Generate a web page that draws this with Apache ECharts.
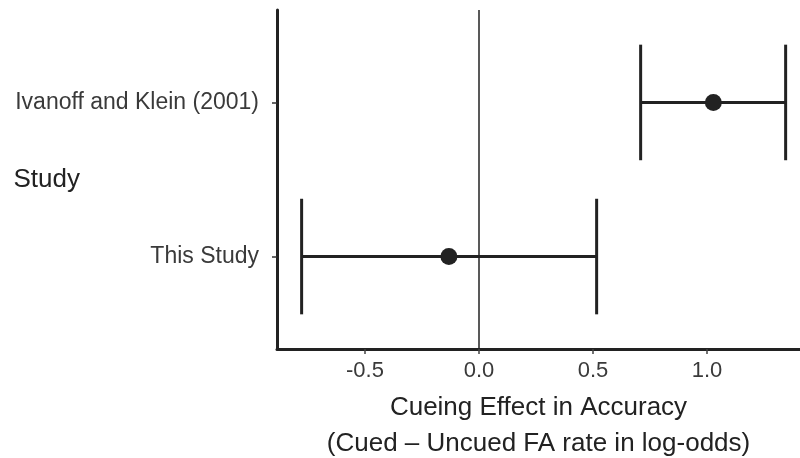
<!DOCTYPE html>
<html>
<head>
<meta charset="utf-8">
<script src="https://cdn.jsdelivr.net/npm/echarts@6/dist/echarts.min.js"></script>
<style>
  html, body { margin: 0; padding: 0; background: #ffffff; }
  #chart { width: 800px; height: 458px; }
</style>
</head>
<body>
<div id="chart"></div>
<script>
// ---- data ----
const studies   = ['This Study', 'Ivanoff and Klein (2001)'];
const yPos      = [1, 2];
const estimates = [-0.132, 1.028];
const lower     = [-0.778, 0.709];
const upper     = [0.516, 1.345];
const xTicks    = [-0.5, 0.0, 0.5, 1.0];
const xTitle    = 'Cueing Effect in Accuracy\n(Cued \u2013 Uncued FA rate in log-odds)';
const yTitle    = 'Study';

// ---- chart ----
const FONT = '"Liberation Sans", Arial, Helvetica, sans-serif';
const INK = '#222222';
const CAP_HALF = 0.375;

const errData = yPos.map((y, i) => [lower[i], upper[i], y]);
const ptData  = yPos.map((y, i) => [estimates[i], y]);

const chart = echarts.init(document.getElementById('chart'), null, { renderer: 'canvas' });
chart.setOption({
  animation: false,
  backgroundColor: '#ffffff',
  grid: { left: 277, right: 0, top: 10, bottom: 109, containLabel: false, outerBoundsMode: 'none' },
  xAxis: {
    type: 'value',
    min: -0.886,
    max: 1.408,
    name: xTitle,
    nameLocation: 'middle',
    nameGap: 41,
    nameTextStyle: { fontFamily: FONT, fontSize: 26, color: INK, lineHeight: 36 },
    axisLine: { show: true, onZero: false, lineStyle: { color: INK, width: 3 } },
    axisTick: { show: true, length: 5, customValues: xTicks, lineStyle: { color: '#444', width: 1.5 } },
    axisLabel: {
      customValues: xTicks,
      margin: 11,
      fontFamily: FONT, fontSize: 22, color: '#3a3a3a',
      formatter: v => Number(v).toFixed(1)
    },
    splitLine: { show: false }
  },
  yAxis: {
    type: 'value',
    min: 0.4,
    max: 2.6,
    name: yTitle,
    nameLocation: 'middle',
    nameRotate: 0,
    nameGap: 197,
    nameMoveOverlap: false,
    nameTextStyle: { fontFamily: FONT, fontSize: 26, color: INK },
    axisLine: { show: true, onZero: false, lineStyle: { color: INK, width: 3 } },
    axisTick: { show: true, length: 5, customValues: yPos, lineStyle: { color: '#333', width: 1.5 } },
    axisLabel: {
      customValues: yPos,
      margin: 18,
      fontFamily: FONT, fontSize: 23, color: '#3a3a3a',
      formatter: v => { const k = yPos.indexOf(Math.round(v)); return k >= 0 ? studies[k] : ''; }
    },
    splitLine: { show: false }
  },
  series: [
    {
      type: 'line',
      data: [],
      markLine: {
        silent: true,
        symbol: ['none', 'none'],
        label: { show: false },
        lineStyle: { color: INK, width: 1.5, type: 'solid' },
        data: [{ xAxis: 0 }]
      }
    },
    {
      type: 'custom',
      data: errData,
      z: 3,
      renderItem: (params, api) => {
        const lo = api.value(0), hi = api.value(1), y = api.value(2);
        const a = api.coord([lo, y]), b = api.coord([hi, y]);
        const la = api.coord([lo, y + CAP_HALF]), lb = api.coord([lo, y - CAP_HALF]);
        const ra = api.coord([hi, y + CAP_HALF]), rb = api.coord([hi, y - CAP_HALF]);
        const style = { stroke: INK, lineWidth: 3, fill: null };
        return {
          type: 'group',
          children: [
            { type: 'line', shape: { x1: a[0], y1: a[1], x2: b[0], y2: b[1] }, style },
            { type: 'line', shape: { x1: la[0], y1: la[1], x2: lb[0], y2: lb[1] }, style },
            { type: 'line', shape: { x1: ra[0], y1: ra[1], x2: rb[0], y2: rb[1] }, style }
          ]
        };
      }
    },
    {
      type: 'scatter',
      data: ptData,
      z: 5,
      symbol: 'circle',
      symbolSize: 17,
      itemStyle: { color: INK, opacity: 1 }
    }
  ]
});
</script>
</body>
</html>
